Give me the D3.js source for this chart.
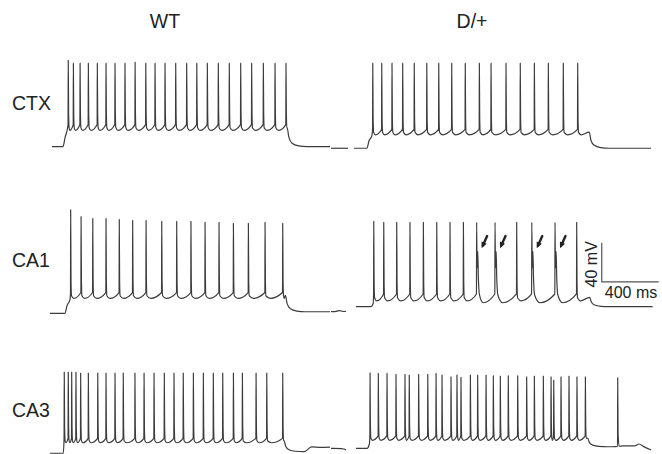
<!DOCTYPE html>
<html>
<head>
<meta charset="utf-8">
<script src="https://cdn.jsdelivr.net/npm/d3@7"></script>
<style>
  html, body { margin: 0; padding: 0; background: #fff; }
  svg { display: block; font-family: "Liberation Sans", Arial, sans-serif; }
  .trace { fill: none; stroke: #3c3c3c; stroke-width: 1.2; stroke-linejoin: round; }
  .label { fill: #222; font-size: 19.5px; }
  .bar { fill: none; stroke: #555; stroke-width: 1.2; }
  .arrow { stroke: #222; stroke-width: 2.4; stroke-linecap: round; }
</style>
</head>
<body>
<svg id="chart" width="662" height="454"></svg>
<script>
// panel labels
const columnLabels = ['WT', 'D/+'];
const rowLabels = ['CTX', 'CA1', 'CA3'];

// spike times (ms from sweep start) and peak potentials (mV)
const ctxWtSpikes = [128, 164, 211, 269, 332, 393, 456, 526, 597, 672, 737, 807, 882, 959, 1030, 1104, 1181, 1258, 1338, 1415, 1497, 1579, 1656];
const ctxWtPeaks = [19, 16, 16, 16, 16, 16, 16, 16, 17, 16, 16, 16, 16, 16, 16, 16, 16, 16, 16, 16, 16, 16, 16];
const ctxDpSpikes = [293, 356, 428, 503, 584, 672, 756, 847, 942, 1041, 1123, 1228, 1328, 1427, 1525, 1630, 1731];
const ctxDpPeaks = [16, 16, 16, 16, 16, 16, 16, 16, 16, 16, 16, 16, 16, 16, 16, 16, 16];

const ca1WtSpikes = [145, 218, 300, 393, 486, 580, 674, 784, 889, 989, 1088, 1186, 1287, 1392, 1509, 1633];
const ca1WtPeaks = [36, 29, 27, 27, 26, 25, 25, 24, 24, 24, 23, 23, 22, 22, 23, 22];
const ca1DpSpikes = [300, 370, 461, 554, 648, 742, 835, 929, 1022, 1151, 1303, 1409, 1572, 1724];
const ca1DpPeaks = [24, 23, 23, 23, 23, 23, 23, 23, 23, 23, 23, 23, 23, 23];
const ca1DpDoublets = [8, 9, 11, 12]; // spikes with a second, smaller spikelet (arrows)

const ca3WtSpikes = [100, 128, 152, 182, 215, 269, 335, 393, 456, 514, 596, 660, 730, 802, 870, 935, 1006, 1076, 1146, 1212, 1287, 1350, 1446, 1521, 1633];
const ca3WtPeaks = [12, 12, 12, 12, 11, 11, 11, 11, 11, 11, 11, 11, 11, 11, 11, 11, 11, 11, 11, 11, 11, 11, 11, 11, 11];
const ca3DpSpikes = [274, 332, 393, 456, 519, 549, 615, 679, 737, 779, 842, 884, 912, 978, 1029, 1088, 1139, 1188, 1244, 1310, 1373, 1427, 1490, 1544, 1563, 1614, 1670, 1726, 1785, 2012];
const ca3DpPeaks = [11.3, 10.7, 10.7, 9.7, 9.7, 9, 9.7, 9.7, 10.7, 9, 7.2, 9, 6.6, 9, 9, 9, 8.3, 7.9, 8.3, 8.3, 7.2, 7.9, 7.9, 7.2, 3.8, 7.2, 7.9, 7.2, 7.2, 6.2];

// baseline after the current step: [ms, mV]
const ca3WtTail = [[1754, -69.7], [1836, -64.8], [1900, -65.3], [1965, -65]];
const ca3DpTail = [[1900, -64.6], [2000, -64.4], [2040, -63.8], [2130, -63.8], [2161, -61.8], [2195, -64.5], [2246, -68]];

// short baseline pieces before the sweep (right column): [ms, mV]
const ctxDpPre = [[0, -71.3], [119, -71.3]];
const ca1DpPre = [[0, -68.5], [40, -68.5], [62, -67], [82, -68.8], [105, -68.2]];
const ca3DpPre = [[0, -66.2], [85, -66.2], [105, -67.8]];

// scale bar
const barMs = 400;
const barMv = 40;

const traces = [
  { row: 0, col: 0, spikes: ctxWtSpikes, peaks: ctxWtPeaks, start: 14, on: 91, off: 1664, end: 1965, rest: -69.7, post: -69.7, plateau: -50.5, trough: -53, rise: 6 },
  { row: 0, col: 1, spikes: ctxDpSpikes, peaks: ctxDpPeaks, pre: ctxDpPre, start: 161, on: 252, off: 1812, end: 2246, rest: -71.3, post: -71.3, plateau: -56, trough: -57.5, rise: 5.5 },
  { row: 1, col: 0, spikes: ca1WtSpikes, peaks: ca1WtPeaks, start: 0, on: 105, off: 1652, end: 1965, rest: -70.3, post: -68.7, plateau: -54, trough: -55, rise: 6 },
  { row: 1, col: 1, spikes: ca1DpSpikes, peaks: ca1DpPeaks, doublets: ca1DpDoublets, pre: ca1DpPre, start: 175, on: 281, off: 1815, end: 2257, rest: -63.5, post: -63.5, plateau: -57, trough: -57.5, rise: 7 },
  { row: 2, col: 0, spikes: ca3WtSpikes, peaks: ca3WtPeaks, tail: ca3WtTail, start: 0, on: 93, off: 1642, end: 1965, rest: -71.3, post: -69.7, plateau: -60, trough: -60.5, rise: 4.5 },
  { row: 2, col: 1, spikes: ca3DpSpikes, peaks: ca3DpPeaks, tail: ca3DpTail, pre: ca3DpPre, start: 175, on: 253, off: 1801, end: 2246, rest: -66.2, post: -64.6, plateau: -59, trough: -58, rise: 4.5 }
];

const svg = d3.select('#chart');

// time scales (one per column, 400 ms = 57 px) and voltage scales (one per row, 40 mV = 39 px)
const pxPerMs = 57 / 400;
const pxPerMv = 39 / 40;
const colX0 = [50, 331];
const xScales = colX0.map(x0 => d3.scaleLinear().domain([0, 2300]).range([x0, x0 + 2300 * pxPerMs]));
const rowBase = [147, 313, 452];
const yScales = rowBase.map(y0 => d3.scaleLinear().domain([-70, 30]).range([y0, y0 - 100 * pxPerMv]));

// build the sweep vertices from the read spike times
function buildSweep(tr) {
  const pts = [[tr.start, tr.rest], [tr.on, tr.rest]];
  const thr = tr.trough + tr.rise;
  const spikes = tr.spikes.map((t, i) => ({ t: t, v: tr.peaks[i], i: i }));
  const inStep = spikes.filter(s => s.t < tr.off);
  const late = spikes.filter(s => s.t >= tr.off);
  const doublets = tr.doublets || [];

  // charging of the membrane at step onset
  const first = inStep[0].t;
  const dv = tr.plateau - tr.rest;
  [[15, 0.5], [35, 0.85], [60, 1]].forEach(c => {
    if (tr.on + c[0] < first - 3) pts.push([tr.on + c[0], tr.rest + c[1] * dv]);
  });

  inStep.forEach((s, k) => {
    const next = inStep[k + 1];
    const endT = next ? next.t : tr.off;
    const isi = endT - s.t;
    pts.push([s.t - 1.2, thr]);
    pts.push([s.t, s.v]);
    let ahpT = s.t + Math.max(10, 0.3 * isi);
    let ahpV = tr.trough;
    if (doublets.includes(s.i)) {
      pts.push([s.t + 3, -24]);
      pts.push([s.t + 8, -7]);
      pts.push([s.t + 12, -33]);
      pts.push([s.t + 20, tr.trough + 6]);
      ahpT = s.t + Math.max(40, 0.35 * isi);
      ahpV = tr.trough - 2;
    } else {
      pts.push([s.t + 2.5, thr + 12]);
      if (ahpT > s.t + 9) pts.push([s.t + 6, tr.trough + 0.45 * tr.rise]);
    }
    if (endT - ahpT > 6) pts.push([ahpT, ahpV]);
  });

  // release of the step
  const lvl = tr.trough + 0.5 * tr.rise;
  const d = lvl - tr.post;
  pts.push([tr.off, lvl]);
  pts.push([tr.off + 12, tr.post + 0.5 * d]);
  pts.push([tr.off + 35, tr.post + 0.18 * d]);
  pts.push([tr.off + 80, tr.post + 0.04 * d]);
  pts.push([tr.off + 140, tr.post]);

  // baseline afterwards, with any spike outside the step
  const after = (tr.tail || []).slice();
  late.forEach(s => {
    after.push([s.t - 1.2, tr.post + 0.5], [s.t, s.v], [s.t + 2.5, tr.post + 14], [s.t + 10, tr.post + 0.5], [s.t + 25, tr.post + 0.6]);
  });
  after.push([tr.end, (tr.tail ? tr.tail[tr.tail.length - 1][1] : tr.post)]);
  after.sort((a, b) => a[0] - b[0]);
  after.forEach(p => pts.push(p));

  // keep time strictly increasing
  const out = [];
  pts.forEach(p => { if (!out.length || p[0] > out[out.length - 1][0]) out.push(p); });
  return out;
}

// column and row labels
svg.selectAll('.col-label').data(columnLabels).enter().append('text')
  .attr('class', 'label')
  .attr('x', (d, i) => [165, 472][i])
  .attr('y', 28)
  .attr('text-anchor', 'middle')
  .text(d => d);

svg.selectAll('.row-label').data(rowLabels).enter().append('text')
  .attr('class', 'label')
  .attr('x', 12)
  .attr('y', (d, i) => [110, 267, 417][i])
  .text(d => d);

// traces
traces.forEach(tr => {
  const x = xScales[tr.col];
  const y = yScales[tr.row];
  const line = d3.line().x(p => x(p[0])).y(p => y(p[1])).curve(d3.curveMonotoneX);
  if (tr.pre) {
    svg.append('path').attr('class', 'trace').attr('d', d3.line().x(p => x(p[0])).y(p => y(p[1])).curve(d3.curveBasis)(tr.pre));
  }
  svg.append('path').attr('class', 'trace').attr('d', line(buildSweep(tr)));

  // arrows pointing at the spikelets
  (tr.doublets || []).forEach(i => {
    const t = tr.spikes[i];
    const hx = x(t) + 5, hy = y(-3.5);
    const tx = x(t) + 10.5, ty = y(9);
    const ang = Math.atan2(hy - ty, hx - tx);
    svg.append('line').attr('class', 'arrow')
      .attr('x1', tx).attr('y1', ty)
      .attr('x2', hx - 3 * Math.cos(ang)).attr('y2', hy - 3 * Math.sin(ang));
    const len = 6, w = 2.8;
    const bx = hx - len * Math.cos(ang), by = hy - len * Math.sin(ang);
    svg.append('path')
      .attr('d', `M${hx},${hy}L${bx + w * Math.sin(ang)},${by - w * Math.cos(ang)}L${bx - w * Math.sin(ang)},${by + w * Math.cos(ang)}Z`)
      .attr('fill', '#222');
  });
});

// scale bar, placed in the CA1 D/+ panel
const sx = xScales[1], sy = yScales[1];
const t0 = 1900, v0 = -38;
svg.append('path').attr('class', 'bar')
  .attr('d', `M${sx(t0)},${sy(v0 + barMv)}L${sx(t0)},${sy(v0)}L${sx(t0 + barMs)},${sy(v0)}`);
svg.append('text')
  .attr('transform', `translate(${sx(t0) - 5},${(sy(v0) + sy(v0 + barMv)) / 2 + 2}) rotate(-90)`)
  .attr('text-anchor', 'middle')
  .style('font-size', '16px').attr('fill', '#222')
  .text(barMv + ' mV');
svg.append('text')
  .attr('x', sx(t0) + 3).attr('y', sy(v0) + 16)
  .style('font-size', '16px').attr('fill', '#222')
  .text(barMs + ' ms');
</script>
</body>
</html>
